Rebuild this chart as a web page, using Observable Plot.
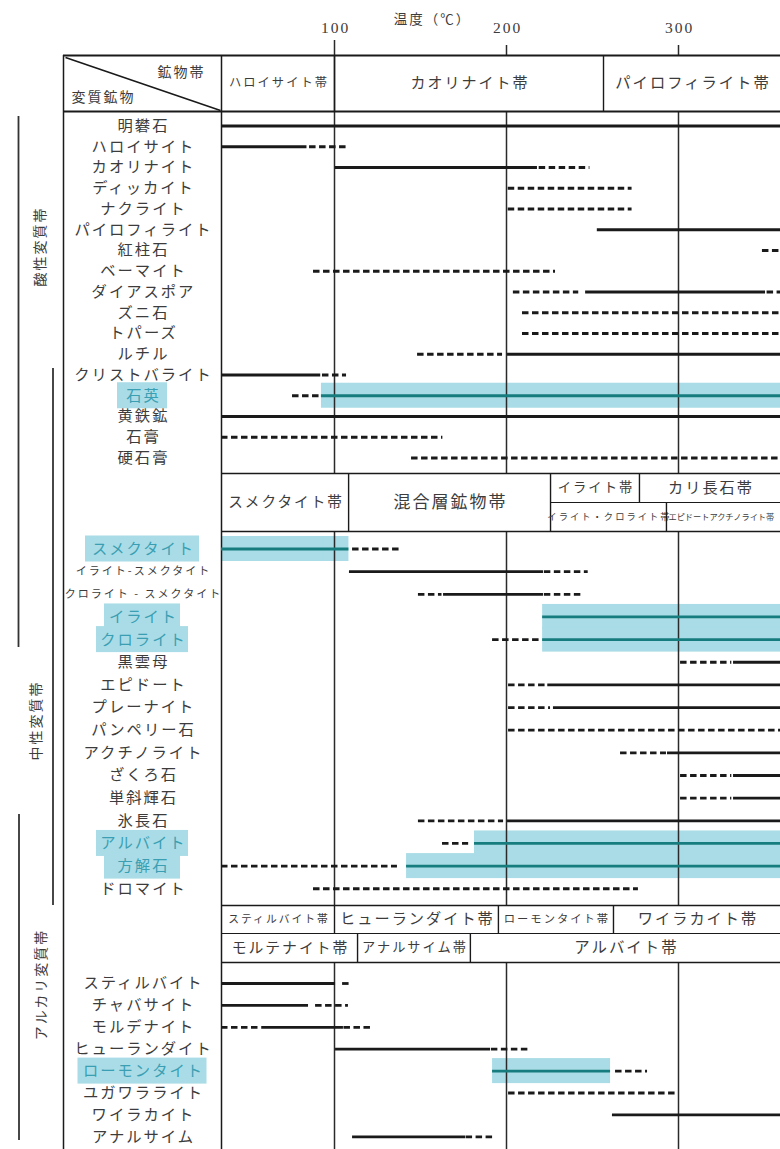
<!DOCTYPE html>
<html><head><meta charset="utf-8">
<script src="https://cdn.jsdelivr.net/npm/d3@7"></script>
<script src="https://cdn.jsdelivr.net/npm/@observablehq/plot@0.6"></script>
<style>body{margin:0;background:#fff}#chart svg{display:block}</style>
</head><body><div id="chart"></div>
<script>
// ---------------- DATA ----------------
const tempTicks = [100, 200, 300];
const axisTitle = "温度（℃）";

const minerals1 = ["明礬石","ハロイサイト","カオリナイト","ディッカイト","ナクライト","パイロフィライト","紅柱石","ベーマイト","ダイアスポア","ズニ石","トパーズ","ルチル","クリストバライト","石英","黄鉄鉱","石膏","硬石膏"];
const minerals2 = ["スメクタイト","イライト-スメクタイト","クロライト - スメクタイト","イライト","クロライト","黒雲母","エピドート","プレーナイト","パンペリー石","アクチノライト","ざくろ石","単斜輝石","氷長石","アルバイト","方解石","ドロマイト"];
const minerals3 = ["スティルバイト","チャバサイト","モルデナイト","ヒューランダイト","ローモンタイト","ユガワラライト","ワイラカイト","アナルサイム"];

const highlighted = ["石英","スメクタイト","イライト","クロライト","アルバイト","方解石","ローモンタイト"];

// stability ranges: [mineral, from °C, to °C, "s" solid | "d" dashed]
const segs1 = [
  ["明礬石",34.3,360,"s"],
  ["ハロイサイト",34.3,84,"s"],["ハロイサイト",85.5,107.5,"d"],
  ["カオリナイト",100.5,218,"s"],["カオリナイト",219,248.5,"d"],
  ["ディッカイト",201,273,"d"],
  ["ナクライト",201,273,"d"],
  ["パイロフィライト",252.8,360,"s"],
  ["紅柱石",348.8,360,"d"],
  ["ベーマイト",87.8,228.5,"d"],
  ["ダイアスポア",204,242,"d"],["ダイアスポア",246,350.6,"s"],["ダイアスポア",351.5,360,"d"],
  ["ズニ石",209.3,360,"d"],
  ["トパーズ",209.3,360,"d"],
  ["ルチル",148.3,197.7,"d"],["ルチル",200.6,360,"s"],
  ["クリストバライト",34.3,92,"s"],["クリストバライト",93,107,"d"],
  ["石英",75.6,91.5,"d"],["石英",92.4,360,"s"],
  ["黄鉄鉱",34.3,360,"s"],
  ["石膏",34.3,163,"d"],
  ["硬石膏",144.8,360,"d"]
];
const segs2 = [
  ["スメクタイト",34.3,108.4,"s"],["スメクタイト",110.5,138.4,"d"],
  ["イライト-スメクタイト",108.7,221.5,"s"],["イライト-スメクタイト",222,247.5,"d"],
  ["クロライト - スメクタイト",148.8,162.5,"d"],["クロライト - スメクタイト",163.4,221.5,"s"],["クロライト - スメクタイト",222,244.2,"d"],
  ["イライト",221,360,"s"],
  ["クロライト",191.9,219.8,"d"],["クロライト",221,360,"s"],
  ["黒雲母",301.2,331,"d"],["黒雲母",332,360,"s"],
  ["エピドート",201.2,223,"d"],["エピドート",224,360,"s"],
  ["プレーナイト",201.2,225.6,"d"],["プレーナイト",227.3,360,"s"],
  ["パンペリー石",201.2,360,"d"],
  ["アクチノライト",266.3,293,"d"],["アクチノライト",293.6,360,"s"],
  ["ざくろ石",301.2,331,"d"],["ざくろ石",332,360,"s"],
  ["単斜輝石",301.2,331,"d"],["単斜輝石",332,360,"s"],
  ["氷長石",148.8,198.3,"d"],["氷長石",200.6,360,"s"],
  ["アルバイト",162.8,178,"d"],["アルバイト",181.4,360,"s"],
  ["方解石",34.3,136.6,"d"],["方解石",141.9,360,"s"],
  ["ドロマイト",87.8,276.7,"d"]
];
const segs3 = [
  ["スティルバイト",34.3,100.6,"s"],["スティルバイト",104.7,110.5,"d"],
  ["チャバサイト",34.3,84.9,"s"],["チャバサイト",89,108.1,"d"],
  ["モルデナイト",34.3,58,"d"],["モルデナイト",58.1,105.2,"s"],["モルデナイト",105.5,122.1,"d"],
  ["ヒューランダイト",100.6,190.7,"s"],["ヒューランダイト",191.2,212.8,"d"],
  ["ローモンタイト",191.9,260.5,"s"],["ローモンタイト",263.4,282,"d"],
  ["ユガワラライト",201.2,300,"d"],
  ["ワイラカイト",261.6,360,"s"],
  ["アナルサイム",110.5,176.2,"s"],["アナルサイム",176.5,193.6,"d"]
];

// mineral zones (°C ranges)
const zones1 = [["ハロイサイト帯",34.3,100],["カオリナイト帯",100,256.4],["パイロフィライト帯",256.4,360]];
const zones2 = [["スメクタイト帯",34.3,108.2],["混合層鉱物帯",108.2,225.6]];
const zones2top = [["イライト帯",225.6,277.3],["カリ長石帯",277.3,360]];
const zones2bot = [["イライト・クロライト帯",225.6,293],["エピドートアクチノライト帯",293,360]];
const zones3top = [["スティルバイト帯",34.3,100],["ヒューランダイト帯",100,195.3],["ローモンタイト帯",195.3,262.2],["ワイラカイト帯",262.2,360]];
const zones3bot = [["モルテナイト帯",34.3,113.4],["アナルサイム帯",113.4,179],["アルバイト帯",179,360]];

const alterationZones = ["酸性変質帯","中性変質帯","アルカリ変質帯"];
const headerCorner = ["鉱物帯","変質鉱物"];

// ---------------- LAYOUT / STYLE ----------------
const W = 780, H = 1149;
const xs = d3.scaleLinear([100, 300], [334, 678]);
const px = v => xs.invert(v);              // pixel -> °C, for frame elements
const TMIN = px(221), TMAX = px(780);
const sections = [
  {minerals: minerals1, segs: segs1, first: 125.5, pitch: 20.75},
  {minerals: minerals2, segs: segs2, first: 548.5, pitch: 22.65},
  {minerals: minerals3, segs: segs3, first: 983, pitch: 21.9}
];
const rowY = {};
sections.forEach(s => s.minerals.forEach((m, i) => rowY[m] = s.first + i * s.pitch));

const allSegs = sections.flatMap(s => s.segs.map(([m, t1, t2, k]) => ({m, t1, t2: Math.min(t2, TMAX), k, y: rowY[m], hl: highlighted.includes(m)})));
const bands = allSegs.filter(d => d.hl && d.k === "s");
const labelRows = sections.flatMap(s => s.minerals.map(m => ({m, y: rowY[m], hl: highlighted.includes(m)})));

const labelW = {"石英":50,"スメクタイト":114,"イライト":76,"クロライト":92,"アルバイト":92,"方解石":76,"ローモンタイト":129};
const hlFill = "#a9dce6", hlText = "#3b9fb3", teal = "#177c7e", ink = "#1a1a1a", txt = "#3c3c3c";
const FONT = "'Noto Sans CJK JP', 'Noto Sans', sans-serif";

const zoneFont = {"ハロイサイト帯":12.3,"カオリナイト帯":15,"パイロフィライト帯":15.3,"スメクタイト帯":14.6,"混合層鉱物帯":17,
  "イライト帯":13.3,"カリ長石帯":15.2,"イライト・クロライト帯":9.3,"エピドートアクチノライト帯":8.2,
  "スティルバイト帯":10.8,"ヒューランダイト帯":15.2,"ローモンタイト帯":11.3,"ワイラカイト帯":15.2,"モルテナイト帯":14.8,"アナルサイム帯":13.2,"アルバイト帯":15.4};

function zoneMarks(zs, yText, y1, y2, anchorStart) {
  const d = zs.map(([n, a, b]) => ({n, a, b: Math.min(b, TMAX)}));
  return [
    Plot.ruleX(d.filter(z => z.a > TMIN + 1), {x: "a", y1: () => y1, y2: () => y2, stroke: ink, strokeWidth: 1.4}),
    Plot.text(d.filter(z => !anchorStart), {x: z => (z.a + z.b) / 2, dx: 1, y: () => yText, text: "n", fill: txt, fontSize: z => zoneFont[z.n], fontFamily: FONT}),
    Plot.text(d.filter(z => anchorStart), {x: z => z.a, dx: 2, y: () => yText, text: "n", textAnchor: "start", fill: txt, fontSize: z => zoneFont[z.n], fontFamily: FONT})
  ];
}

const hLines = [
  {y: 55, a: px(63), w: 2}, {y: 111, a: px(63), w: 2},
  {y: 473, a: TMIN, w: 1.6}, {y: 531, a: TMIN, w: 1.6}, {y: 502, a: 225.6, w: 1.2},
  {y: 905, a: TMIN, w: 1.6}, {y: 933, a: TMIN, w: 1.2}, {y: 962, a: TMIN, w: 1.6}
];

const chart = Plot.plot({
  width: W, height: H, margin: 0,
  x: {domain: [100, 300], range: [334, 678], axis: null},
  y: {domain: [0, H], range: [0, H], axis: null},
  style: {fontFamily: FONT, background: "#fff", letterSpacing: "2px"},
  marks: [
    // highlight bands
    Plot.rect(bands, {x1: "t1", x2: "t2", y1: d => d.y - 12.5, y2: d => d.y + 12.5, fill: hlFill}),
    Plot.rect(labelRows.filter(d => d.hl), {x1: d => px(142 - labelW[d.m] / 2), x2: d => px(142 + labelW[d.m] / 2), y1: d => d.y - 13, y2: d => d.y + 13, fill: hlFill}),
    // grid lines
    Plot.ruleX(tempTicks, {y1: d => d === 100 ? 40 : 111, y2: 473, stroke: "#2a2a2a", strokeWidth: 1.5}),
    Plot.ruleX(tempTicks.slice(1), {y1: 45, y2: 55, stroke: "#2a2a2a", strokeWidth: 1.5}),
    Plot.ruleX(tempTicks, {y1: 531, y2: 905, stroke: "#2a2a2a", strokeWidth: 1.5}),
    Plot.ruleX(tempTicks, {y1: 962, y2: H, stroke: "#2a2a2a", strokeWidth: 1.5}),
    Plot.text(tempTicks, {x: d => d, dx: 1, y: 28, text: d => String(d), fontFamily: "'Liberation Serif', serif", fontSize: 15.5, fill: txt}),
    Plot.text([axisTitle], {x: px(432), y: 19, text: d => d, fontSize: 13.5, fill: txt, fontFamily: FONT}),
    // frame
    Plot.ruleY(hLines, {y: "y", x1: "a", x2: TMAX, strokeWidth: "w", stroke: ink}),
    Plot.ruleX([px(63), TMIN], {y1: 55, y2: H, stroke: ink, strokeWidth: 1.5}),
    Plot.link([0], {x1: px(65), y1: 57, x2: px(220), y2: 110, stroke: ink, strokeWidth: 1.6}),
    Plot.text([headerCorner[0]], {x: px(181), y: 72, text: d => d, fontSize: 14, fill: txt}),
    Plot.text([headerCorner[1]], {x: px(103), y: 97, text: d => d, fontSize: 14, fill: txt}),
    // zones
    ...zoneMarks(zones1, 83, 55, 111),
    ...zoneMarks(zones2, 502, 473, 531),
    ...zoneMarks(zones2top, 487.5, 473, 502),
    ...zoneMarks(zones2bot.slice(0, 1), 516.5, 502, 531),
    ...zoneMarks(zones2bot.slice(1), 516.5, 502, 531, true),
    ...zoneMarks(zones3top, 919, 905, 933),
    ...zoneMarks(zones3bot, 947.5, 933, 962),
    // mineral ranges
    Plot.ruleY(allSegs.filter(d => d.k === "s"), {y: "y", x1: "t1", x2: "t2", stroke: d => d.hl ? teal : ink, strokeWidth: 2.8}),
    Plot.ruleY(allSegs.filter(d => d.k === "d"), {y: "y", x1: "t1", x2: "t2", stroke: ink, strokeWidth: 2.8, strokeDasharray: "6.5,3.5"}),
    // row labels
    Plot.text(labelRows, {x: px(142), dx: 1, y: "y", text: "m", fill: d => d.hl ? hlText : txt,
      fontSize: d => d.m.includes("スメクタイト") && d.m !== "スメクタイト" ? 11 : 15.3, fontFamily: FONT}),
    // alteration zone brackets
    Plot.ruleX([{x: px(18), a: 116, b: 647}, {x: px(52.5), a: 368, b: 905}, {x: px(18.5), a: 814, b: 1140}], {x: "x", y1: "a", y2: "b", stroke: "#333", strokeWidth: 1.8}),
    Plot.text(alterationZones, {x: (d, i) => px([40, 36, 41][i]), y: (d, i) => [246, 720, 984][i], text: d => d, rotate: -90, fontSize: 14, fill: txt})
  ]
});
// tighten the one condensed zone label that sits at the cropped right edge
d3.select(chart).selectAll("text").filter(function () { return this.textContent === "エピドートアクチノライト帯"; }).attr("letter-spacing", "0");
document.getElementById("chart").append(chart);
</script>
</body></html>
